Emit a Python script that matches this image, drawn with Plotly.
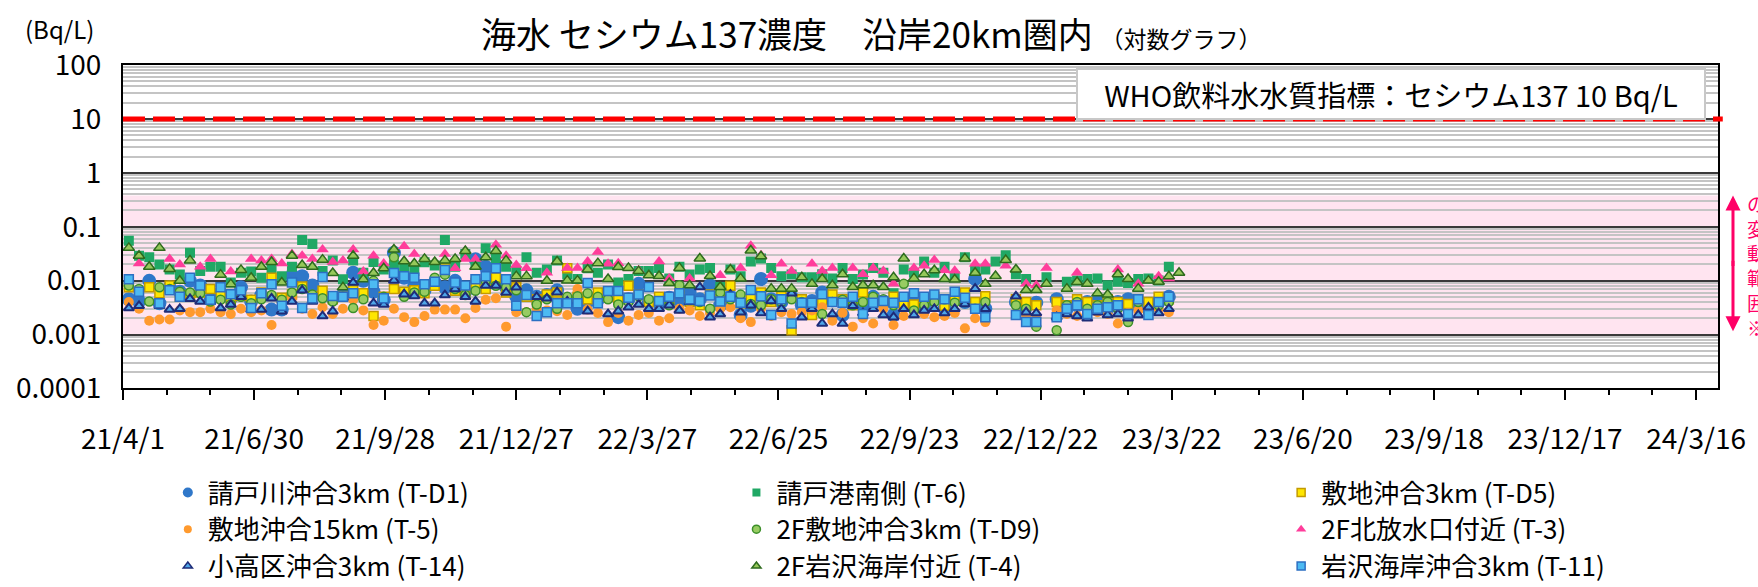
import math
import plotly.graph_objects as go
import pandas as pd

# weekly sampling dates (Mondays) from 2021-04-05
dates = pd.date_range("2021-04-05", periods=104, freq="7D")

tick_dates = ["2021-04-01", "2021-06-30", "2021-09-28", "2021-12-27", "2022-03-27",
              "2022-06-25", "2022-09-23", "2022-12-22", "2023-03-22", "2023-06-20",
              "2023-09-18", "2023-12-17", "2024-03-16"]
tick_labels = ["21/4/1", "21/6/30", "21/9/28", "21/12/27", "22/3/27", "22/6/25",
               "22/9/23", "22/12/22", "23/3/22", "23/6/20", "23/9/18", "23/12/17", "24/3/16"]

y_tickvals = [0.0001, 0.001, 0.01, 0.1, 1, 10, 100]
y_ticktext = ["0.0001", "0.001", "0.01", "0.1", "1", "10", "100"]

who_limit = 10
pre_accident_range = [0.001, 0.38]

N = None
t_d1 = [0.0045, 0.0041, 0.0099, 0.0038, 0.0075, 0.0062, 0.0099, 0.0081, 0.0044, 0.0054, 0.0047, 0.0075, 0.0041,
        0.0054, 0.0029, 0.0029, 0.0125, 0.0121, 0.0081, 0.0054, 0.0047, 0.0054, 0.0140, 0.0099, 0.0062, 0.0044,
        0.033, 0.0113, 0.0081, 0.0066, 0.0092, 0.0075, 0.0099, 0.0062, 0.025, 0.0181, 0.0099, 0.0075, 0.0050,
        0.0066, 0.0050, 0.0054, 0.0066, 0.0042, 0.0030, 0.0041, 0.0044, 0.0050, 0.0021, 0.0045, 0.0087, 0.0040,
        0.0038, 0.0048, 0.0042, 0.0060, 0.0045, 0.0082, 0.0035, 0.0050, 0.0023, 0.0034, 0.0107, 0.0045, 0.0040,
        0.0050, 0.0035, 0.0042, 0.0060, 0.0045, 0.0023, 0.0040, 0.0034, 0.0050, 0.0040, 0.0023, 0.0045, 0.0038,
        0.0035, 0.0045, 0.0030, 0.0045, 0.0040, 0.0107, 0.0030, N, N, 0.0040, 0.0032, 0.0039, N,
        0.0045, 0.0030, 0.0035, 0.0040, 0.0042, 0.0030, 0.0040, 0.0045, 0.0035, 0.0030, 0.0040, 0.0050, N]

t_6 = [0.055, 0.029, 0.027, 0.020, 0.016, 0.013, 0.033, 0.015, 0.0181, 0.0181, 0.0092, 0.014, 0.0148,
       0.0113, 0.016, 0.012, 0.018, 0.0568, 0.048, 0.015, 0.0237, 0.0106, 0.0237, 0.014, 0.0221, 0.016,
       0.020, 0.017, 0.015, 0.022, 0.019, 0.0568, 0.018, 0.031, 0.020, 0.040, 0.0253, 0.018, 0.015,
       0.0271, 0.014, 0.016, 0.0237, 0.013, 0.0107, 0.017, 0.0140, 0.020, 0.0092, 0.0107, 0.0150, 0.015,
       0.0172, 0.011, 0.0181, 0.013, 0.0161, 0.0172, 0.0076, 0.016, 0.012, 0.0226, 0.0258, 0.0172, 0.012,
       0.013, 0.0115, 0.0115, 0.0131, 0.011, 0.0172, 0.0107, 0.013, 0.0172, 0.0140, 0.0058, 0.0161, 0.014,
       0.0226, 0.014, 0.018, 0.012, 0.0271, 0.0150, 0.0161, 0.0226, 0.0296, 0.0131, 0.0107, N, 0.0115,
       N, 0.0095, 0.010, 0.0107, 0.011, 0.0082, 0.0095, 0.009, 0.0107, 0.011, 0.010, 0.018, N]

t_d5 = [0.0075, N, 0.0075, 0.0058, 0.0081, 0.0050, 0.0054, 0.0060, 0.0070, 0.0058, 0.0045, 0.0052, 0.0044,
        0.0060, 0.0113, 0.0048, 0.0055, 0.0078, 0.0052, 0.0065, 0.0045, 0.0050, 0.0066, 0.0058, 0.0022, 0.0050,
        0.0070, 0.0062, 0.0066, 0.0058, 0.0080, 0.0169, 0.0065, 0.0055, 0.0090, 0.0070, 0.0113, 0.0060, 0.0075,
        0.0050, 0.0045, 0.0055, 0.0060, 0.0169, 0.0050, 0.0045, 0.0060, 0.0050, 0.0045, 0.0080, 0.0055, 0.0040,
        0.0050, 0.0045, 0.0060, 0.0040, 0.0035, 0.0055, 0.0045, 0.0080, 0.0038, 0.0050, 0.0060, 0.0040, 0.0051,
        0.0012, 0.0045, 0.0023, 0.0040, 0.0055, 0.0045, 0.0035, 0.0060, 0.0045, 0.0040, 0.0050, 0.0035, 0.0036,
        0.0040, 0.0050, 0.0034, 0.0045, 0.0060, 0.0040, 0.0051, N, N, 0.0045, 0.0040, 0.0035, N,
        0.0040, 0.0035, 0.0045, 0.0040, 0.0035, 0.0045, 0.0040, 0.0037, 0.0045, 0.0040, 0.0050, 0.0045, N]

t_5 = [0.0040, 0.0030, 0.0018, 0.0019, 0.0019, 0.0028, 0.0026, 0.0026, 0.0030, 0.0026, 0.0024, 0.0030, 0.0026,
       0.0028, 0.0015, 0.0044, 0.0047, 0.0030, 0.0024, 0.0032, 0.0024, 0.0030, 0.0044, 0.0028, 0.0015, 0.0018,
       0.0030, 0.0021, 0.0017, 0.0022, 0.0029, 0.0029, 0.0029, 0.0020, 0.0031, 0.0044, 0.0047, 0.0014, 0.0026,
       0.0026, 0.0030, 0.0028, 0.0027, 0.0023, 0.0070, 0.0029, 0.0025, 0.0017, 0.0025, 0.0018, 0.0023, 0.0025,
       0.0018, 0.0020, 0.0030, 0.0028, 0.0022, 0.0025, 0.0030, 0.0032, 0.0020, 0.0017, 0.0030, 0.0022, 0.0026,
       0.0024, 0.0026, 0.0028, 0.0032, 0.0018, 0.0025, 0.0014, 0.0020, 0.0016, 0.0030, 0.0015, 0.0022, 0.0026,
       0.0024, 0.0021, 0.0022, 0.0025, 0.0013, 0.0020, 0.0017, N, N, 0.0025, 0.0022, 0.0020, N,
       0.0028, 0.0024, 0.0022, 0.0030, 0.0026, 0.0024, 0.0016, 0.0025, 0.0028, 0.0024, 0.0030, 0.0026, N]

t_d9 = [0.0081, 0.0070, 0.0041, 0.0075, 0.0070, 0.0062, 0.0060, 0.0058, 0.0041, 0.0044, 0.0036, 0.0050, 0.0038,
        0.0045, 0.0054, 0.0044, 0.0060, 0.0070, 0.0055, 0.0047, 0.0041, 0.0050, 0.0031, 0.0045, 0.0099, 0.0050,
        0.027, 0.0050, 0.0060, 0.0062, 0.0113, 0.0129, 0.0070, 0.0054, 0.0065, 0.0099, 0.0080, 0.0075, 0.0066,
        0.0026, 0.0036, 0.0045, 0.0030, 0.0050, 0.0051, 0.0058, 0.0050, 0.0045, 0.0036, 0.0040, 0.0051, 0.0045,
        0.0040, 0.0035, 0.0082, 0.0045, 0.0040, 0.0030, 0.0060, 0.0045, 0.0055, 0.0037, 0.0035, 0.0045, 0.0040,
        0.0045, 0.0040, 0.0035, 0.0024, 0.0040, 0.0044, 0.0035, 0.0040, 0.0050, 0.0045, 0.0035, 0.0087, 0.0028,
        0.0035, 0.0040, 0.0045, 0.0039, 0.0040, 0.0030, 0.0040, N, N, 0.0035, 0.0030, 0.0014, N,
        0.0012, 0.0035, 0.0040, 0.0030, 0.0035, 0.0040, 0.0030, 0.0017, 0.0040, 0.0025, 0.0035, 0.0040, N]

t_3 = [N, 0.0207, N, 0.040, 0.0253, 0.020, N, 0.0181, 0.0253, N, 0.0148, N, 0.0253,
       0.0237, 0.0253, 0.0207, 0.031, 0.029, 0.0253, 0.0379, 0.0221, 0.0237, 0.0379, 0.0148, 0.029, 0.0207,
       N, 0.0434, 0.031, N, N, 0.031, 0.0169, 0.0253, 0.0253, N, 0.0464, 0.029, 0.0194,
       0.0169, N, 0.0140, N, 0.0172, 0.0172, 0.0226, 0.0338, 0.0205, 0.0211, N, 0.0156, N,
       0.0226, 0.0110, N, 0.0110, N, N, 0.0126, N, 0.0172, 0.0444, 0.0296, 0.0126, 0.0205,
       0.0150, N, 0.0205, 0.0150, 0.0172, N, 0.0172, 0.0131, 0.0172, 0.0150, 0.0087, N, 0.0172,
       0.0189, 0.0241, 0.0156, 0.0153, N, 0.0205, 0.0205, N, 0.0189, N, 0.0087, 0.0082, 0.0172,
       N, N, 0.0140, 0.0087, N, N, 0.0161, N, 0.0087, N, 0.012, 0.011, N]

t_14 = [0.0031, 0.0034, N, 0.0034, 0.0029, 0.0030, 0.0046, 0.0041, 0.0041, 0.0031, 0.0036, 0.0050, 0.0029,
        0.0029, 0.0047, 0.0027, 0.0041, 0.0066, 0.0041, 0.0022, 0.0027, 0.0048, 0.0092, N, 0.0038, 0.0036,
        0.0101, 0.0056, 0.0052, 0.0038, 0.0038, 0.0054, 0.0070, 0.0050, 0.0041, 0.0081, 0.0081, 0.0060, 0.0075,
        N, 0.0050, 0.0047, 0.0061, 0.0041, N, 0.0027, N, 0.0024, 0.0027, 0.0032, 0.0036, 0.0030,
        0.0030, 0.0035, 0.0028, 0.0040, 0.0076, 0.0021, 0.0024, 0.0055, 0.0026, 0.0035, 0.0025, 0.0042, 0.0030,
        0.0058, 0.0021, 0.0030, 0.0016, 0.0024, 0.0016, 0.0034, 0.0025, 0.0030, 0.0023, 0.0021, 0.0030, 0.0023,
        0.0028, 0.0030, 0.0025, 0.0030, 0.0037, 0.0071, 0.0030, N, N, 0.0051, 0.0026, 0.0025, N,
        0.0021, 0.0024, 0.0022, 0.0020, 0.0026, 0.0023, 0.0024, 0.0020, 0.0023, 0.0032, 0.0025, 0.0030, N]

t_4 = [0.0405, 0.029, 0.0181, 0.0405, 0.0165, 0.0099, 0.0237, N, N, 0.0129, 0.0086, 0.0158, 0.0113,
       0.0181, 0.0221, 0.0092, 0.029, 0.0194, 0.0181, 0.0245, 0.0138, 0.0075, 0.029, 0.0106, 0.0138, 0.0169,
       0.0379, 0.0229, 0.0207, 0.0253, 0.0221, 0.0237, 0.0253, 0.0355, 0.0181, 0.0271, 0.0355, 0.0237, 0.0121,
       0.0121, N, 0.0099, 0.0226, 0.0100, 0.0100, 0.0161, 0.0211, 0.0107, 0.0179, 0.0172, 0.0150, 0.0126,
       0.0122, 0.0090, 0.0172, 0.0082, 0.0258, 0.0122, 0.0076, 0.0161, 0.0110, 0.0362, 0.0284, 0.0071, 0.0071,
       0.0071, 0.0115, 0.0087, 0.0107, 0.0082, 0.0131, 0.0076, 0.0082, 0.0082, 0.0076, 0.0115, 0.0258, 0.0110,
       0.0131, 0.0156, 0.0107, 0.0105, 0.0258, 0.0140, 0.0087, 0.0122, 0.0241, 0.0161, 0.0067, 0.0067, 0.0087,
       N, 0.0071, 0.0094, 0.0087, 0.0058, 0.0055, 0.0131, 0.0107, 0.0071, 0.010, 0.0095, 0.012, 0.014]

t_11 = [0.0106, 0.0062, N, 0.0038, 0.0066, 0.0050, 0.0113, 0.0081, 0.0044, 0.0075, 0.0056, 0.0066, 0.0031,
        0.0058, 0.0086, 0.0034, 0.0092, 0.0031, 0.0047, 0.0117, 0.0052, 0.0050, 0.0058, N, 0.0086, 0.0047,
        0.0138, 0.0121, 0.0113, 0.0086, 0.0095, 0.0158, 0.0092, 0.0081, 0.0106, 0.0121, 0.0169, 0.0106, 0.0034,
        0.0054, 0.0022, 0.0026, 0.0038, 0.0038, 0.0038, 0.0090, 0.0038, 0.0064, 0.0064, 0.0048, 0.0055, 0.0076,
        0.0042, 0.0050, 0.0058, 0.0045, 0.0042, 0.0053, 0.0041, 0.0050, 0.0039, 0.0067, 0.0051, 0.0023, 0.0045,
        0.0016, 0.0039, 0.0039, 0.0056, 0.0040, 0.0039, 0.0050, 0.0024, 0.0039, 0.0042, 0.0039, 0.0050, 0.0058,
        0.0050, 0.0055, 0.0045, 0.0062, 0.0048, 0.0030, 0.0021, N, N, 0.0023, 0.0017, 0.0017, N,
        0.0021, 0.0030, 0.0035, 0.0024, 0.0030, 0.0032, 0.0035, 0.0024, 0.0045, 0.0023, 0.0040, 0.0050, N]

series = [
    ("請戸川沖合3km (T-D1)", t_d1, "legend"),
    ("請戸港南側 (T-6)", t_6, "legend2"),
    ("敷地沖合3km (T-D5)", t_d5, "legend3"),
    ("敷地沖合15km (T-5)", t_5, "legend"),
    ("2F敷地沖合3km (T-D9)", t_d9, "legend2"),
    ("2F北放水口付近 (T-3)", t_3, "legend3"),
    ("小高区沖合3km (T-14)", t_14, "legend"),
    ("2F岩沢海岸付近 (T-4)", t_4, "legend2"),
    ("岩沢海岸沖合3km (T-11)", t_11, "legend3"),
]
for name, vals, _ in series:
    assert len(vals) == len(dates), (name, len(vals))

# (symbol, plot size, legend size, fill, border width, border colour)
styles = [
    ("circle", 14, 10, "#2F77C9", 0, "#2F77C9"),
    ("square", 10, 8, "#20A865", 0, "#20A865"),
    ("square", 9, 8, "#FFE600", 1.5, "#C39A00"),
    ("circle", 10, 8, "#FF9A2E", 0, "#FF9A2E"),
    ("circle", 9, 8, "#97CC62", 1.5, "#3C8F2A"),
    ("triangle-up", 11, 9, "#FF3D9B", 0, "#FF3D9B"),
    ("triangle-up", 9, 8, "#4FA6E8", 2, "#1E2C78"),
    ("triangle-up", 10, 8, "#96C85A", 1.5, "#2E6B1E"),
    ("square", 9, 8, "#4DBAF2", 1.5, "#2C6FC2"),
]

FONT = "Noto Sans CJK JP, Noto Sans, sans-serif"

fig = go.Figure()
for (name, vals, lg), (sym, sz, lsz, col, lw, lc) in zip(series, styles):
    fig.add_trace(go.Scatter(
        x=dates, y=vals, mode="markers", name=name, showlegend=False,
        marker=dict(symbol=sym, size=sz, color=col, line=dict(width=lw, color=lc)),
        cliponaxis=True,
    ))
# legend entries (smaller symbols, as in the original legend)
for (name, vals, lg), (sym, sz, lsz, col, lw, lc) in zip(series, styles):
    fig.add_trace(go.Scatter(
        x=[None], y=[None], mode="markers", name=name, legend=lg, legendgroup=name,
        marker=dict(symbol=sym, size=lsz, color=col, line=dict(width=min(lw, 1.5), color=lc)),
    ))

# pre-accident variation range band
fig.add_shape(type="rect", xref="paper", x0=0, x1=1, yref="y",
              y0=pre_accident_range[0], y1=pre_accident_range[1],
              fillcolor="#FFE4F0", line=dict(width=0), layer="below")
# WHO guideline line
fig.add_shape(type="line", xref="paper", x0=0, x1=1.003, yref="y",
              y0=who_limit, y1=who_limit,
              line=dict(color="#FF0000", width=5, dash="22px,8px"), layer="above")

fig.add_annotation(xref="paper", yref="y", x=1.0094, y=math.log10(pre_accident_range[1]),
                   ax=0, ay=72, showarrow=True, arrowhead=2, arrowsize=1, arrowwidth=3,
                   arrowcolor="#FF0066", text="")
fig.add_annotation(xref="paper", yref="y", x=1.0094, y=math.log10(pre_accident_range[0] * 1.15),
                   ax=0, ay=-72, showarrow=True, arrowhead=2, arrowsize=1, arrowwidth=3,
                   arrowcolor="#FF0066", text="")
fig.add_annotation(xref="paper", yref="paper", x=1.0169, y=0.62, xanchor="left", yanchor="top",
                   text="の<br>変<br>動<br>範<br>囲<br>※", showarrow=False, align="left",
                   font=dict(family=FONT, size=19, color="#FF0066"))

fig.add_annotation(xref="paper", yref="paper", x=0.9925, y=0.991, xanchor="right", yanchor="top",
                   text="WHO飲料水水質指標：セシウム137 10 Bq/L", showarrow=False,
                   width=624, height=46, bgcolor="white", bordercolor="#C8C8C8", borderwidth=2,
                   font=dict(family=FONT, size=29, color="black"))

fig.add_annotation(xref="paper", yref="paper", x=0.2233, y=1.102, xanchor="left", yanchor="middle",
                   text="海水 セシウム137濃度　沿岸20km圏内 <span style='font-size:23px'>（対数グラフ）</span>",
                   showarrow=False, font=dict(family=FONT, size=35, color="black"))
fig.add_annotation(xref="paper", yref="paper", x=-0.063, y=1.114, xanchor="left", yanchor="middle",
                   text="(Bq/L)", showarrow=False, font=dict(family=FONT, size=24, color="black"))

legend_common = dict(orientation="v", yref="container", yanchor="top", y=0.201, xanchor="left",
                     font=dict(family=FONT, size=26, color="black"),
                     bgcolor="rgba(0,0,0,0)", tracegroupgap=0, itemclick=False)
fig.update_layout(
    width=1758, height=587,
    margin=dict(l=123, r=36, t=65, b=180),
    paper_bgcolor="white", plot_bgcolor="white",
    font=dict(family=FONT, color="black"),
    showlegend=True,
    legend=dict(x=0.0281, **legend_common),
    legend2=dict(x=0.3846, **legend_common),
    legend3=dict(x=0.7261, **legend_common),
    xaxis=dict(type="date", range=["2021-04-01", "2024-03-31"],
               tickvals=tick_dates, ticktext=tick_labels,
               ticks="outside", ticklen=10, tickwidth=2, tickcolor="black",
               showline=True, linecolor="black", linewidth=2, mirror=True,
               showgrid=False, zeroline=False, ticklabelstandoff=15,
               tickfont=dict(family=FONT, size=28, color="black"),
               minor=dict(ticks="outside", ticklen=5, tickwidth=1.5, tickcolor="black",
                          dtick=30 * 86400000, tick0="2021-04-01", showgrid=False)),
    yaxis=dict(type="log", range=[-4, 2], tickvals=y_tickvals, ticktext=y_ticktext,
               showline=True, linecolor="black", linewidth=2, mirror=True,
               showgrid=True, gridcolor="#3A3A3A", gridwidth=1.5, zeroline=False,
               ticks="", ticklabelstandoff=14,
               tickfont=dict(family=FONT, size=28, color="black"),
               minor=dict(showgrid=True, gridcolor="#C4C4C4", gridwidth=1.5, dtick="D1", ticks="")),
)

fig.write_html("out.html", config={"displayModeBar": False},
               post_script="document.body.style.margin='0';")
